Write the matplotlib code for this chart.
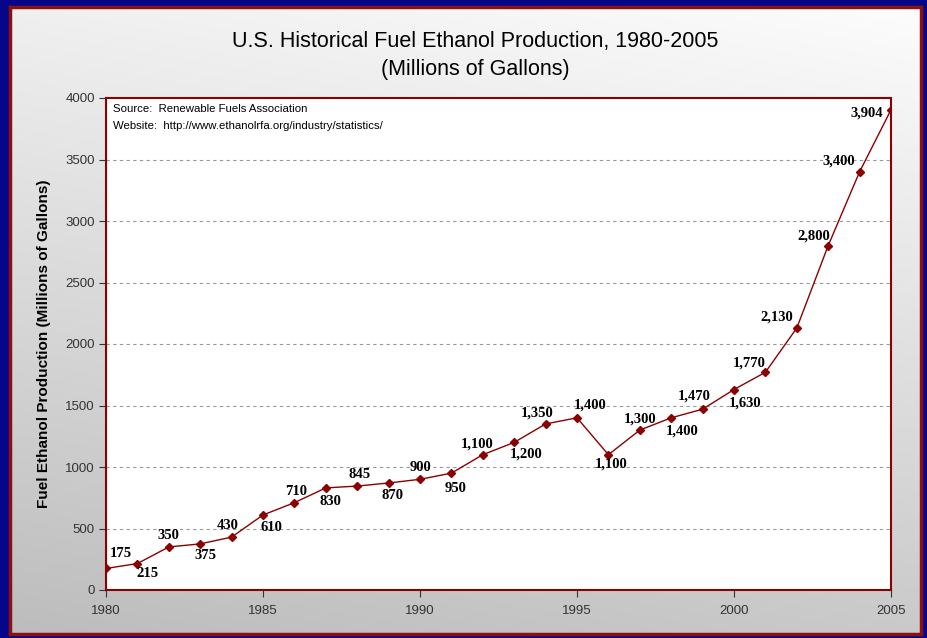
import numpy as np
import matplotlib.pyplot as plt

years = [1980, 1981, 1982, 1983, 1984, 1985, 1986, 1987, 1988, 1989, 1990, 1991, 1992,
         1993, 1994, 1995, 1996, 1997, 1998, 1999, 2000, 2001, 2002, 2003, 2004, 2005]
production = [175, 215, 350, 375, 430, 610, 710, 830, 845, 870, 900, 950, 1100,
              1200, 1350, 1400, 1100, 1300, 1400, 1470, 1630, 1770, 2130, 2800, 3400, 3904]
x_ticks = [1980, 1985, 1990, 1995, 2000, 2005]
y_ticks = [0, 500, 1000, 1500, 2000, 2500, 3000, 3500, 4000]

# label offsets in pixels (dx, dy, ha)
offsets = [(15, 15, 'center'), (10, -10, 'center'), (0, 11, 'center'), (5, -12, 'center'),
           (-4, 12, 'center'), (8, -13, 'center'), (2, 11, 'center'), (5, -14, 'center'),
           (2, 12, 'center'), (4, -13, 'center'), (0, 12, 'center'), (4, -15, 'center'),
           (-6, 11, 'center'), (12, -12, 'center'), (-8, 11, 'center'), (13, 13, 'center'),
           (3, -9, 'center'), (0, 11, 'center'), (11, -13, 'center'), (-8, 13, 'center'),
           (11, -14, 'center'), (0, 9, 'right'), (-4, 11, 'right'), (2, 10, 'right'),
           (-5, 11, 'right'), (-8, -3, 'right')]

red = '#8b0000'
fig = plt.figure(figsize=(9.28, 6.38), dpi=100)
fig.patch.set_facecolor('#06068a')

# inner panel with gradient
bg = fig.add_axes([10 / 928, 4 / 638, 911 / 928, 627 / 638])
gy, gx = np.mgrid[0:1:256j, 0:1:256j]
t = np.clip(0.8 * gy + 0.2 * (1 - gx), 0, 1)
shade = 0.99 - 0.25 * t
bg.imshow(np.dstack([shade, shade, shade]), aspect='auto', extent=[0, 1, 0, 1])
bg.set_xticks([])
bg.set_yticks([])
for s in bg.spines.values():
    s.set_color('#8b1010')
    s.set_linewidth(2.5)

fig.text(475 / 928, 1 - 42 / 638, 'U.S. Historical Fuel Ethanol Production, 1980-2005',
         ha='center', va='center', fontsize=15.5, family='Liberation Sans')
fig.text(475 / 928, 1 - 70 / 638, '(Millions of Gallons)',
         ha='center', va='center', fontsize=15.5, family='Liberation Sans')

ax = fig.add_axes([106 / 928, 48 / 638, 785 / 928, 492 / 638])
ax.set_facecolor('white')
ax.plot(years, production, color=red, lw=1, marker='D', markersize=4.5, zorder=3)
ax.set_xlim(1980, 2005)
ax.set_ylim(0, 4000)
ax.set_xticks(x_ticks)
ax.set_yticks(y_ticks)
ax.tick_params(direction='out', length=5, labelsize=9.5, colors='#333333', pad=3)
ax.tick_params(axis='x', pad=6)
for lab in ax.get_xticklabels() + ax.get_yticklabels():
    lab.set_family('Liberation Sans')
for v in y_ticks[1:-1]:
    ax.axhline(v, color='#999999', lw=0.8, ls=(0, (3, 3)), zorder=1)
for s in ax.spines.values():
    s.set_color(red)
    s.set_linewidth(1.5)

for yr, val, (dx, dy, ha) in zip(years, production, offsets):
    ax.annotate(f'{val:,}', (yr, val), xytext=(dx * 0.72, dy * 0.72), textcoords='offset points',
                ha=ha, va='center', fontsize=10.5, fontweight='bold', family='Liberation Serif')

ax.text(0.009, 0.977, 'Source:  Renewable Fuels Association', transform=ax.transAxes,
        fontsize=8.2, va='center', family='Liberation Sans')
ax.text(0.009, 0.943, 'Website:  http://www.ethanolrfa.org/industry/statistics/', transform=ax.transAxes,
        fontsize=8.2, va='center', family='Liberation Sans')

ax.set_ylabel('Fuel Ethanol Production (Millions of Gallons)', fontsize=11, fontweight='bold',
              family='Liberation Sans', labelpad=10)

fig.savefig('out.png', dpi=100, facecolor=fig.get_facecolor())
